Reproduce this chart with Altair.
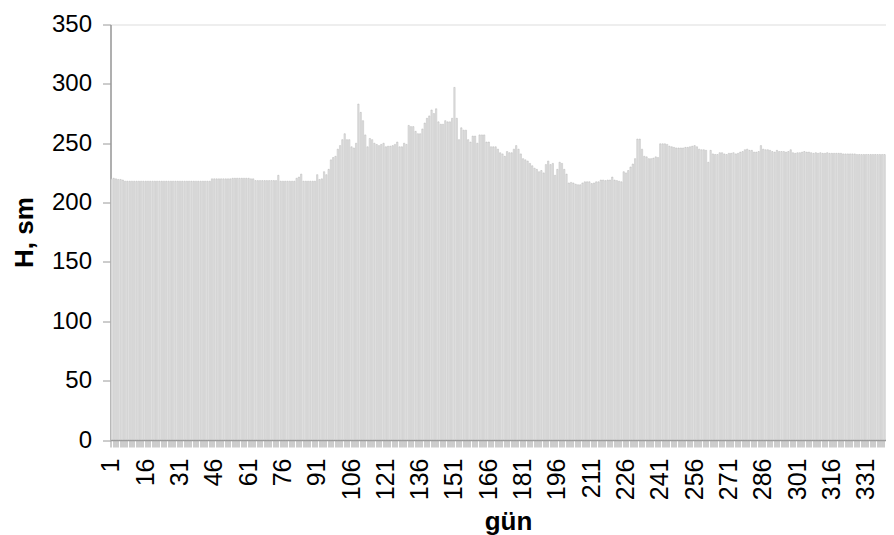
import altair as alt
import pandas as pd

# Water level H (sm) by day (gün)
h_001_060 = [220, 220.5, 220, 219.5, 219.5, 219] + [218] * 38 + [220] * 9 + [220.5] * 7
h_061_120 = ([220.5, 220, 220] + [218.5] * 10 + [223] + [218] * 7 + [220.5, 221.5, 224]
             + [218] * 6 + [223.5, 219.5, 220, 226, 223.5, 228,
                            236, 238, 239, 245, 248, 253, 258, 253, 253, 247, 246, 250,
                            283, 276, 269, 257, 247, 254, 253, 250, 249, 248, 249, 250])
h_121_180 = [247, 247.5, 247.5, 248, 249, 251, 247, 247, 250, 249,
             265, 264, 264, 260, 258, 258, 262, 267, 271, 273,
             278, 275, 279, 268, 266, 266, 269, 268, 268, 271,
             297, 271, 253, 263, 261, 261, 253, 251, 256, 256,
             250, 257, 257, 257, 251, 251, 247, 247, 247, 245,
             242, 241, 239, 243, 242, 242, 245, 248, 245, 241]
h_181_240 = [237, 236, 235, 233, 231, 229, 228, 226, 227, 225,
             232, 235, 232, 233, 223, 228, 234, 233, 228, 224,
             216.5, 217, 216.5, 215.5, 215, 215, 216.5, 217.5, 217.5, 217.5,
             216, 216.5, 217.5, 217.5, 219, 219, 218.5, 219, 219, 221.5,
             219, 218.5, 218, 217.5, 226, 225, 227, 230, 232.5, 237,
             253.5, 253.5, 245, 239, 238.5, 237, 237, 237.5, 238.5, 238]
h_241_300 = [249.5, 249.5, 249.5, 249, 247.5, 247, 246.5, 246, 246, 246,
             246, 246.5, 246.5, 247, 247.5, 248, 247, 245, 244.5, 244.5,
             244, 234, 244, 241, 240.5, 240.5, 242, 242, 241, 240.5,
             241.5, 241.5, 242, 241, 241.5, 242.5, 243, 244.5, 245, 244,
             244, 242.5, 242.5, 243, 248, 245, 244.5, 244.5, 244, 243,
             242.5, 244, 243, 243, 243, 242.5, 243, 244.5, 242, 241.5]
h_301_365 = ([242, 242, 242.5, 243, 242.5, 242.5, 242, 241.5, 242, 241.5,
              242, 241.5, 241.5, 242] + [241.5] * 6 + [241] * 6 + [240.5] * 39)

levels = h_001_060 + h_061_120 + h_121_180 + h_181_240 + h_241_300 + h_301_365
days = list(range(1, len(levels) + 1))
y_ticks = [0, 50, 100, 150, 200, 250, 300, 350]

df = pd.DataFrame({"day": days, "H": levels})

FONT = "Liberation Sans"
AXIS_GRAY = "#9a9a9a"
step = 2.2857
full_range = step * len(days)

chart = alt.Chart(df).mark_bar(
    fill="#e6e6e6", stroke="#a8a8a8", strokeWidth=0.4
).encode(
    x=alt.X(
        "day:O",
        sort=None,
        scale=alt.Scale(paddingInner=0.42, paddingOuter=0.1, range=[0, full_range]),
        axis=alt.Axis(
            values=days,
            labelExpr="(datum.value - 1) % 15 === 0 ? '' + datum.value : ''",
            labelAngle=-90,
            labelOverlap=False,
            labelFont=FONT,
            labelFontSize=25,
            labelColor="#000000",
            labelPadding=11,
            tickSize=7,
            tickColor=AXIS_GRAY,
            domainColor=AXIS_GRAY,
            domainWidth=1.5,
            grid=False,
            title="gün",
            titleFont=FONT,
            titleFontSize=26,
            titleFontWeight="bold",
            titleColor="#000000",
            titleX=397.5,
            titleY=89,
            titleAlign="center",
            titleBaseline="alphabetic",
        ),
    ),
    y=alt.Y(
        "H:Q",
        scale=alt.Scale(domain=[0, 350], nice=False),
        axis=alt.Axis(
            values=y_ticks,
            labelFont=FONT,
            labelFontSize=24,
            labelColor="#000000",
            labelPadding=11,
            tickSize=8,
            tickColor=AXIS_GRAY,
            domainColor=AXIS_GRAY,
            domainWidth=1.5,
            grid=False,
            title="H, sm",
            titleFont=FONT,
            titleFontSize=26,
            titleFontWeight="bold",
            titleColor="#000000",
            titleX=-78.5,
            titleY=207.5,
            titleAlign="center",
            titleBaseline="alphabetic",
        ),
    ),
).properties(
    width=775.5,
    height=415.5,
    autosize=alt.AutoSizeParams(type="none"),
    padding={"left": 102.5, "top": 16.5, "right": 0, "bottom": 95},
).configure_view(stroke=None).configure(background="white")

chart.save("out.html", embed_options={"renderer": "svg", "actions": False})
